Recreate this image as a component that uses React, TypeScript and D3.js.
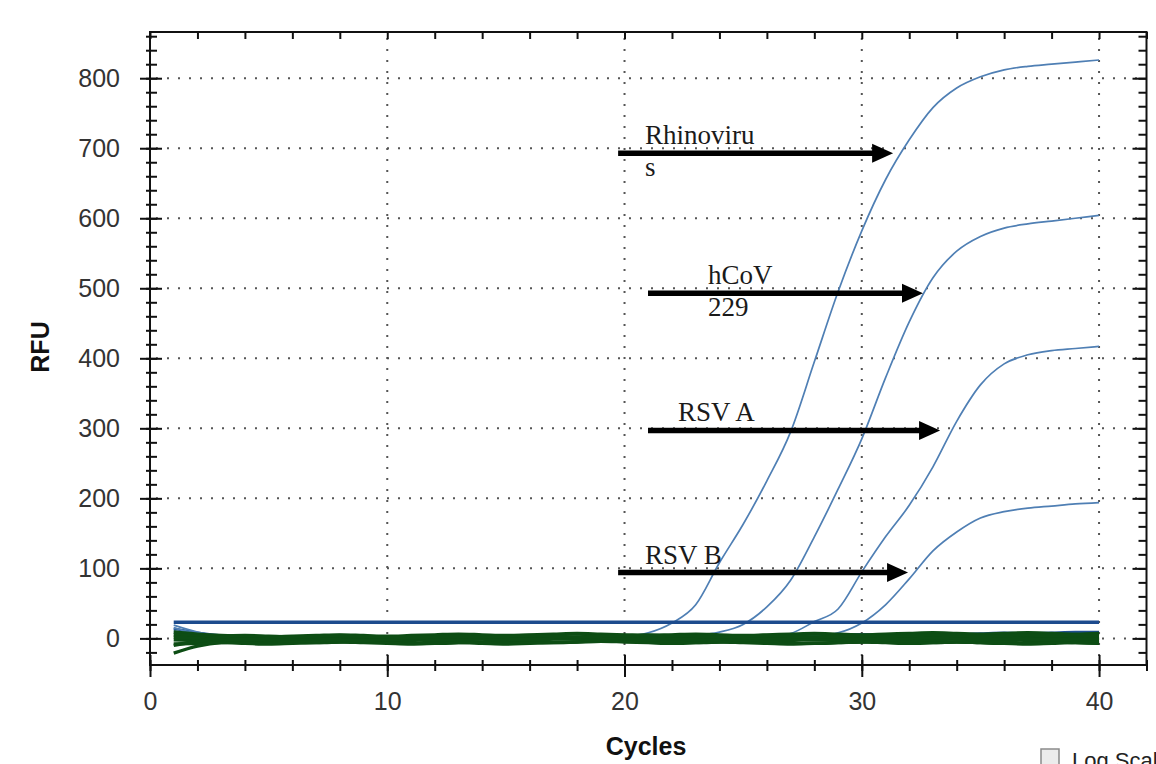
import React, { useEffect, useRef } from "react";
import * as d3 from "d3";

// cycle numbers (x)
const cycles = [
  1, 2, 3, 4, 5, 6, 7, 8, 9, 10, 11, 12, 13, 14, 15, 16, 17, 18, 19, 20,
  21, 22, 23, 24, 25, 26, 27, 28, 29, 30, 31, 32, 33, 34, 35, 36, 37, 38, 39, 40,
];

// amplification curves (RFU per cycle)
const rhinovirus = [
  19, 9, 3, 1, 0, 1, 0, 1, 2, 1, 0, 1, 1, 0, 1, 2, 1, 1, 2, 3,
  8, 22, 48, 108, 163, 225, 295, 395, 495, 582, 655, 712, 758, 786, 802, 812, 817, 820, 823, 826,
];
const hcov229 = [
  15, 7, 2, 0, 1, 0, -1, 0, 1, 0, 1, 0, 0, 1, 0, 1, 0, 1, 1, 0,
  1, 2, 4, 9, 20, 45, 83, 145, 213, 285, 372, 452, 515, 553, 574, 586, 592, 596, 600, 604,
];
const rsvA = [
  11, 5, 1, 0, -1, 0, 1, 0, 0, 1, 0, -1, 0, 1, 0, 0, 1, 0, 1, 0,
  0, 1, 0, 1, 1, 2, 7, 24, 42, 95, 145, 190, 245, 310, 362, 392, 405, 411, 414, 417,
];
const rsvB = [
  7, 3, 0, -1, 0, 1, 0, -1, 0, 0, 1, 0, 0, -1, 0, 1, 0, 0, 1, 0,
  1, 0, 0, 1, 1, 1, 2, 4, 8, 22, 48, 85, 125, 152, 172, 181, 186, 189, 192, 194,
];

// negative wells (flat baselines)
const navyBase = [
  14, 8, 4, 2, 1, 0, -1, 0, 1, 0, -1, 0, 1, 2, 1, 0, 1, 2, 1, 2,
  3, 2, 3, 4, 3, 4, 5, 4, 5, 6, 5, 6, 7, 6, 7, 8, 7, 8, 9, 9,
];
const green1 = [
  -21, -11, -6, -5, -4, -5, -6, -5, -4, -5, -6, -7, -6, -5, -4, -5, -6, -5, -4, -3,
  -4, -5, -6, -5, -4, -5, -6, -7, -6, -5, -4, -5, -6, -5, -6, -7, -6, -5, -6, -7,
];
const green2 = [
  9, 6, 4, 3, 2, 3, 4, 5, 4, 3, 4, 5, 6, 5, 4, 5, 6, 7, 6, 5,
  4, 5, 6, 5, 4, 5, 6, 7, 6, 5, 6, 7, 8, 7, 6, 7, 8, 7, 6, 7,
];
const green3 = [
  -8, -7, -6, -7, -8, -7, -6, -5, -6, -7, -8, -7, -6, -7, -8, -7, -6, -5, -4, -5,
  -6, -7, -6, -5, -6, -7, -8, -7, -6, -5, -6, -7, -6, -5, -6, -7, -8, -7, -6, -7,
];
const green4 = [
  5, 3, 1, 0, 1, 2, 1, 0, 1, 2, 1, 0, -1, 0, 1, 0, 1, 2, 3, 2,
  1, 0, 1, 0, -1, 0, 1, 2, 1, 0, 1, 2, 1, 2, 3, 2, 1, 2, 1, 2,
];
const green5 = [
  -2, -3, -2, -1, -2, -3, -4, -3, -2, -1, -2, -3, -2, -1, -2, -1, 0, -1, -2, -1,
  -2, -3, -2, -1, -2, -3, -2, -1, -2, -1, -2, -3, -2, -1, -2, -3, -2, -1, -2, -3,
];
const green6 = [
  2, 0, -1, -2, -1, 0, -1, -2, -3, -2, -1, -2, -1, 0, -1, -2, -1, 0, 1, 0,
  -1, 0, -1, 0, 1, 0, -1, -2, -1, 0, -1, 0, 1, 0, -1, 0, -1, -2, -1, 0,
];
const green7 = [
  -10, -4, 2, 4, 3, 2, 3, 4, 3, 2, 1, 2, 3, 2, 3, 4, 3, 2, 3, 4,
  5, 4, 3, 2, 3, 4, 3, 2, 3, 4, 3, 4, 5, 4, 3, 4, 5, 4, 5, 4,
];

const threshold = 23;

// axis ticks
const xMajor = [0, 10, 20, 30, 40];
const xMinor = [0, 2, 4, 6, 8, 10, 12, 14, 16, 18, 20, 22, 24, 26, 28, 30, 32, 34, 36, 38, 40, 42];
const yMajor = [0, 100, 200, 300, 400, 500, 600, 700, 800];
const yMinor = [
  -20, 0, 20, 40, 60, 80, 100, 120, 140, 160, 180, 200, 220, 240, 260, 280, 300, 320, 340,
  360, 380, 400, 420, 440, 460, 480, 500, 520, 540, 560, 580, 600, 620, 640, 660, 680, 700,
  720, 740, 760, 780, 800, 820, 840, 860,
];

// annotation arrows
const arrowLabels = [["Rhinoviru", "s"], ["hCoV", "229"], ["RSV A"], ["RSV B"]];
const arrowStart = [19.73, 20.99, 20.99, 19.73];
const arrowEnd = [31.32, 32.58, 33.3, 31.95];
const arrowLevel = [693, 493, 297, 94];
const labelCycle = [20.86, 23.52, 22.25, 20.86];

const sans = "'Liberation Sans', Arial, sans-serif";
const serif = "'Liberation Serif', 'Times New Roman', serif";

export default function App() {
  const svgRef = useRef<SVGSVGElement>(null);

  useEffect(() => {
    const svg = d3.select(svgRef.current);
    svg.selectAll("*").remove();

    const x = d3.scaleLinear().domain([0, 42]).range([150, 1146.5]);
    const y = d3.scaleLinear().domain([-38, 866]).range([665, 32]);
    const [x0, x1] = x.range();
    const [y0, y1] = y.range();

    // dotted grid
    const grid = svg
      .append("g")
      .attr("stroke", "#555")
      .attr("stroke-width", 2)
      .attr("stroke-dasharray", "2 9");
    grid
      .selectAll(".hgrid")
      .data(yMajor)
      .join("line")
      .attr("x1", x0 + 6)
      .attr("x2", x1)
      .attr("y1", (d) => y(d))
      .attr("y2", (d) => y(d));
    grid
      .selectAll(".vgrid")
      .data(xMajor.slice(1))
      .join("line")
      .attr("x1", (d) => x(d))
      .attr("x2", (d) => x(d))
      .attr("y1", y1 + 6)
      .attr("y2", y0);

    const line = d3
      .line<number>()
      .x((d, i) => x(cycles[i]))
      .y((d) => y(d))
      .curve(d3.curveMonotoneX);

    // negative navy baseline
    svg
      .append("path")
      .attr("d", line(navyBase))
      .attr("fill", "none")
      .attr("stroke", "#1f4f8f")
      .attr("stroke-width", 2.5);

    // amplification curves
    svg
      .selectAll(".amp")
      .data([rhinovirus, hcov229, rsvA, rsvB])
      .join("path")
      .attr("class", "amp")
      .attr("d", (d) => line(d))
      .attr("fill", "none")
      .attr("stroke", "#4f7fb4")
      .attr("stroke-width", 1.7);

    // green baselines
    svg
      .selectAll(".base")
      .data([green1, green2, green3, green4, green5, green6, green7])
      .join("path")
      .attr("class", "base")
      .attr("d", (d) => line(d))
      .attr("fill", "none")
      .attr("stroke", "#0d4d14")
      .attr("stroke-width", 3.5);

    // threshold
    svg
      .append("line")
      .attr("x1", x(cycles[0]))
      .attr("x2", x(cycles[cycles.length - 1]))
      .attr("y1", y(threshold))
      .attr("y2", y(threshold))
      .attr("stroke", "#1d4b8d")
      .attr("stroke-width", 3.5);

    // frame
    svg
      .append("rect")
      .attr("x", x0)
      .attr("y", y1)
      .attr("width", x1 - x0)
      .attr("height", y0 - y1)
      .attr("fill", "none")
      .attr("stroke", "#111")
      .attr("stroke-width", 2);

    const styleAxis = (g: any) => {
      g.select(".domain").remove();
      g.attr("color", "#111");
      g.selectAll(".tick line").attr("stroke-width", 2);
      g.selectAll("text")
        .attr("font-family", sans)
        .attr("font-size", 25)
        .attr("fill", "#333");
    };

    // left axis
    const leftMinor = svg
      .append("g")
      .attr("transform", `translate(${x0},0)`)
      .call(d3.axisLeft(y).tickValues(yMinor).tickSize(0).tickFormat(() => ""));
    styleAxis(leftMinor);
    leftMinor.selectAll(".tick line").attr("x1", -4).attr("x2", 7);
    const leftMajor = svg
      .append("g")
      .attr("transform", `translate(${x0},0)`)
      .call(d3.axisLeft(y).tickValues(yMajor).tickSize(0).tickPadding(30).tickFormat(d3.format("d")));
    styleAxis(leftMajor);
    leftMajor.selectAll(".tick line").attr("x1", -10).attr("x2", 12);

    // right axis
    const rightMinor = svg
      .append("g")
      .attr("transform", `translate(${x1},0)`)
      .call(d3.axisRight(y).tickValues(yMinor).tickSize(0).tickFormat(() => ""));
    styleAxis(rightMinor);
    rightMinor.selectAll(".tick line").attr("x1", -8).attr("x2", 0);
    const rightMajor = svg
      .append("g")
      .attr("transform", `translate(${x1},0)`)
      .call(d3.axisRight(y).tickValues(yMajor).tickSize(0).tickFormat(() => ""));
    styleAxis(rightMajor);
    rightMajor.selectAll(".tick line").attr("x1", -14).attr("x2", 0);

    // bottom axis
    const bottomMinor = svg
      .append("g")
      .attr("transform", `translate(0,${y0})`)
      .call(d3.axisBottom(x).tickValues(xMinor).tickSize(0).tickFormat(() => ""));
    styleAxis(bottomMinor);
    bottomMinor.selectAll(".tick line").attr("y1", -5).attr("y2", 6);
    const bottomMajor = svg
      .append("g")
      .attr("transform", `translate(0,${y0})`)
      .call(d3.axisBottom(x).tickValues(xMajor).tickSize(0).tickPadding(27).tickFormat(d3.format("d")));
    styleAxis(bottomMajor);
    bottomMajor.selectAll(".tick line").attr("y1", -10).attr("y2", 12);

    // top axis
    const topMinor = svg
      .append("g")
      .attr("transform", `translate(0,${y1})`)
      .call(d3.axisTop(x).tickValues(xMinor).tickSize(0).tickFormat(() => ""));
    styleAxis(topMinor);
    topMinor.selectAll(".tick line").attr("y1", 0).attr("y2", 7);

    // axis titles
    svg
      .append("text")
      .attr("transform", `translate(49,347) rotate(-90)`)
      .attr("text-anchor", "middle")
      .attr("font-family", sans)
      .attr("font-weight", "bold")
      .attr("font-size", 25)
      .attr("fill", "#111")
      .text("RFU");
    svg
      .append("text")
      .attr("x", 646)
      .attr("y", 755)
      .attr("text-anchor", "middle")
      .attr("font-family", sans)
      .attr("font-weight", "bold")
      .attr("font-size", 25)
      .attr("fill", "#111")
      .text("Cycles");

    // arrows
    const ann = svg.append("g");
    arrowLabels.forEach((lines, i) => {
      const ay = y(arrowLevel[i]);
      const sx = x(arrowStart[i]);
      const ex = x(arrowEnd[i]);
      ann
        .append("line")
        .attr("x1", sx)
        .attr("x2", ex - 16)
        .attr("y1", ay)
        .attr("y2", ay)
        .attr("stroke", "#000")
        .attr("stroke-width", 5.5);
      ann
        .append("path")
        .attr("d", `M${ex - 21},${ay - 9.5}L${ex},${ay}L${ex - 21},${ay + 9.5}Z`)
        .attr("fill", "#000");
      lines.forEach((t, j) => {
        ann
          .append("text")
          .attr("x", x(labelCycle[i]))
          .attr("y", ay - 9 + j * 32)
          .attr("font-family", serif)
          .attr("font-size", 27)
          .attr("fill", "#1a1a1a")
          .text(t);
      });
    });

    // log scale checkbox (cut off at bottom right, as in the source)
    svg
      .append("rect")
      .attr("x", 1041)
      .attr("y", 749)
      .attr("width", 18)
      .attr("height", 18)
      .attr("fill", "#ececec")
      .attr("stroke", "#8a8a8a")
      .attr("stroke-width", 1.5);
    svg
      .append("text")
      .attr("x", 1072)
      .attr("y", 768)
      .attr("font-family", sans)
      .attr("font-size", 22)
      .attr("fill", "#222")
      .text("Log Scale");
  }, []);

  return (
    <svg
      ref={svgRef}
      width={1156}
      height={764}
      style={{ position: "absolute", left: 0, top: 0, background: "#fff" }}
    />
  );
}
